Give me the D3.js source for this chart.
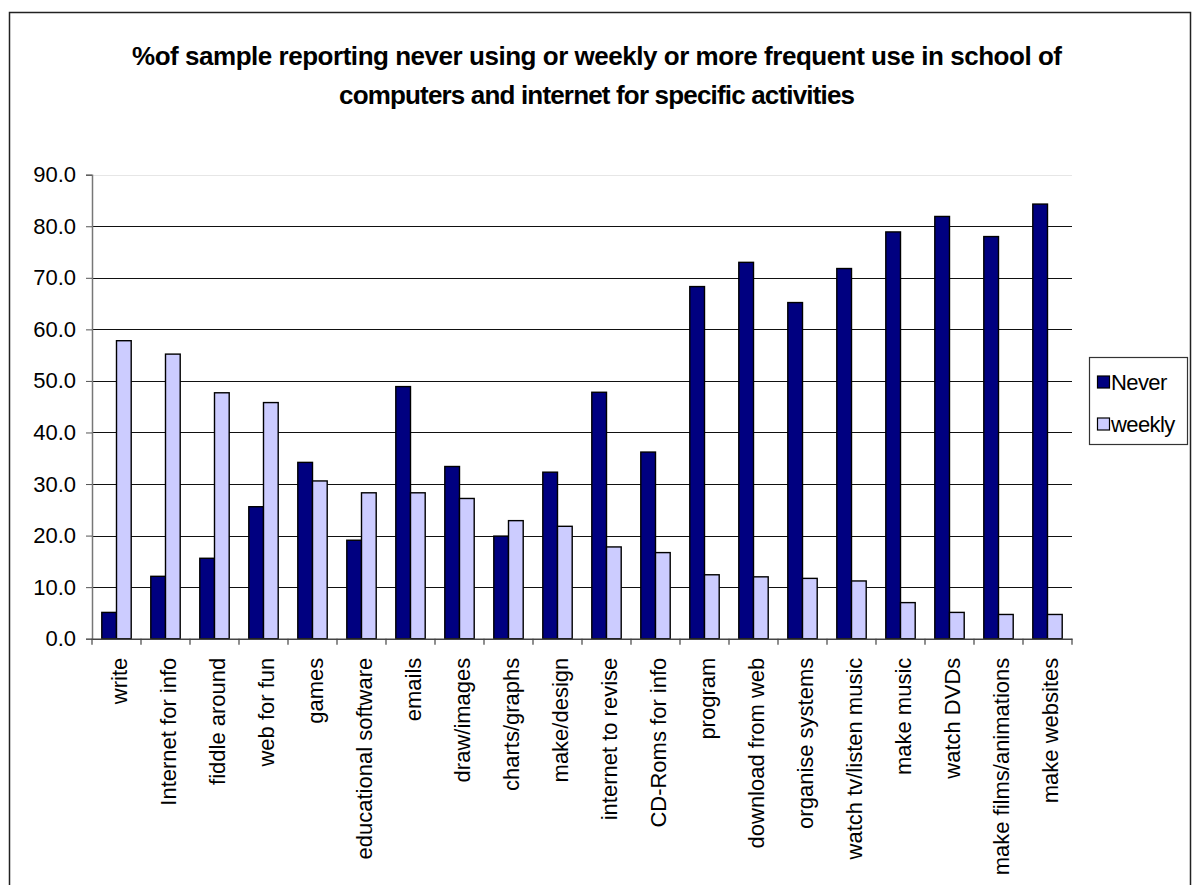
<!DOCTYPE html>
<html>
<head>
<meta charset="utf-8">
<script src="https://cdn.jsdelivr.net/npm/d3@7"></script>
<style>
  html, body { margin: 0; padding: 0; background: #fff; }
  svg { display: block; font-family: "Liberation Sans", Arial, sans-serif; }
</style>
</head>
<body>
<svg id="chart" width="1195" height="885"></svg>
<script>
// Activities (x categories)
const categories = [
  "write", "Internet for info", "fiddle around", "web for fun", "games",
  "educational software", "emails", "draw/images", "charts/graphs", "make/design",
  "internet to revise", "CD-Roms for info", "program", "download from web",
  "organise systems", "watch tv/listen music", "make music", "watch DVDs",
  "make films/animations", "make websites"
];
const seriesNames = ["Never", "weekly"];
const neverValues = [5.1, 12.1, 15.6, 25.6, 34.2, 19.1, 48.9, 33.4, 19.9, 32.3,
                     47.8, 36.2, 68.3, 73.0, 65.2, 71.8, 78.9, 81.9, 78.0, 84.3];
const weeklyValues = [57.8, 55.2, 47.7, 45.8, 30.6, 28.3, 28.3, 27.2, 22.9, 21.8,
                      17.8, 16.7, 12.4, 12.0, 11.7, 11.2, 7.0, 5.1, 4.7, 4.7];
const yTicks = [0, 10, 20, 30, 40, 50, 60, 70, 80, 90];
const titleLines = [
  "%of sample reporting never using or weekly or more frequent use in school of",
  "computers and internet for specific activities"
];

const seriesValues = { Never: neverValues, weekly: weeklyValues };
const colors = { Never: "#000080", weekly: "#CCCCFF" };

const svg = d3.select("#chart");

// outer chart frame
svg.append("rect")
  .attr("x", 9.5).attr("y", 12.5)
  .attr("width", 1181).attr("height", 900)
  .attr("fill", "#fff").attr("stroke", "#222").attr("stroke-width", 1.5);

// title (two centred lines, tightly spaced)
const titleWidths = [930, 516];
const titleBase = [65, 104];
titleLines.forEach((t, i) => {
  svg.append("text")
    .attr("x", 597).attr("y", titleBase[i])
    .attr("text-anchor", "middle")
    .attr("font-size", 26).attr("font-weight", "bold")
    .attr("textLength", titleWidths[i])
    .attr("lengthAdjust", "spacing")
    .attr("fill", "#000")
    .text(t);
});

// scales
const plot = { left: 92, right: 1072, top: 174.7, bottom: 638.7 };
const x0 = d3.scaleBand().domain(categories).range([plot.left, plot.right]);
const bw = x0.bandwidth();
const x1 = d3.scaleBand().domain(seriesNames).range([bw * 0.2, bw * 0.8]);
const y = d3.scaleLinear().domain([0, 90]).range([plot.bottom, plot.top]);

// gridlines
svg.append("g")
  .selectAll("line")
  .data(yTicks.filter(v => v > 0))
  .join("line")
  .attr("x1", plot.left).attr("x2", plot.right)
  .attr("y1", v => Math.round(y(v)) + 0.5).attr("y2", v => Math.round(y(v)) + 0.5)
  .attr("stroke", v => v === 90 ? "#e6e6e6" : "#111")
  .attr("stroke-width", 1.2);

// bars
const groups = svg.append("g")
  .selectAll("g")
  .data(categories)
  .join("g")
  .attr("transform", d => `translate(${x0(d)},0)`);

groups.selectAll("rect")
  .data((d, i) => seriesNames.map(s => ({ s, v: seriesValues[s][i] })))
  .join("rect")
  .attr("x", d => x1(d.s))
  .attr("width", x1.bandwidth())
  .attr("y", d => y(d.v))
  .attr("height", d => y(0) - y(d.v))
  .attr("fill", d => colors[d.s])
  .attr("stroke", "#000")
  .attr("stroke-width", 1.4);

// y axis
const yAxis = svg.append("g")
  .attr("transform", `translate(${plot.left},0)`)
  .call(d3.axisLeft(y).tickValues(yTicks).tickFormat(d3.format(".1f")).tickSize(6).tickPadding(10));
yAxis.select(".domain").attr("stroke", "#777").attr("stroke-width", 1.5);
yAxis.selectAll(".tick line").attr("stroke", "#555");
yAxis.selectAll(".tick text")
  .attr("font-size", 22).attr("fill", "#000")
  .attr("font-family", "'Liberation Sans', Arial, sans-serif");

// x axis
const xAxis = svg.append("g")
  .attr("transform", `translate(0,${plot.bottom})`)
  .call(d3.axisBottom(x0).tickSize(0).tickPadding(0));
xAxis.select(".domain").attr("stroke", "#444").attr("stroke-width", 1.5);
xAxis.selectAll(".tick text")
  .attr("font-size", 22).attr("fill", "#000")
  .attr("font-family", "'Liberation Sans', Arial, sans-serif")
  .attr("text-anchor", "end")
  .attr("transform", "translate(3,19) rotate(-90)")
  .attr("x", 0).attr("y", 0).attr("dy", "0.35em");

// category separator ticks on x axis
svg.append("g")
  .selectAll("line")
  .data(d3.range(categories.length + 1))
  .join("line")
  .attr("x1", i => plot.left + i * bw).attr("x2", i => plot.left + i * bw)
  .attr("y1", plot.bottom).attr("y2", plot.bottom + 6)
  .attr("stroke", "#444").attr("stroke-width", 1.2);

// legend
const legend = svg.append("g");
legend.append("rect")
  .attr("x", 1089.5).attr("y", 357.5).attr("width", 98).attr("height", 87)
  .attr("fill", "#fff").attr("stroke", "#333").attr("stroke-width", 1.2);
const legendRows = [382, 424];
seriesNames.forEach((s, i) => {
  legend.append("rect")
    .attr("x", 1097.5).attr("y", legendRows[i] - 6)
    .attr("width", 12).attr("height", 12)
    .attr("fill", colors[s]).attr("stroke", "#000").attr("stroke-width", 1.2);
  legend.append("text")
    .attr("x", 1111).attr("y", legendRows[i] + 8)
    .attr("font-size", 22).attr("letter-spacing", -0.6)
    .attr("fill", "#000")
    .text(s);
});
</script>
</body>
</html>
